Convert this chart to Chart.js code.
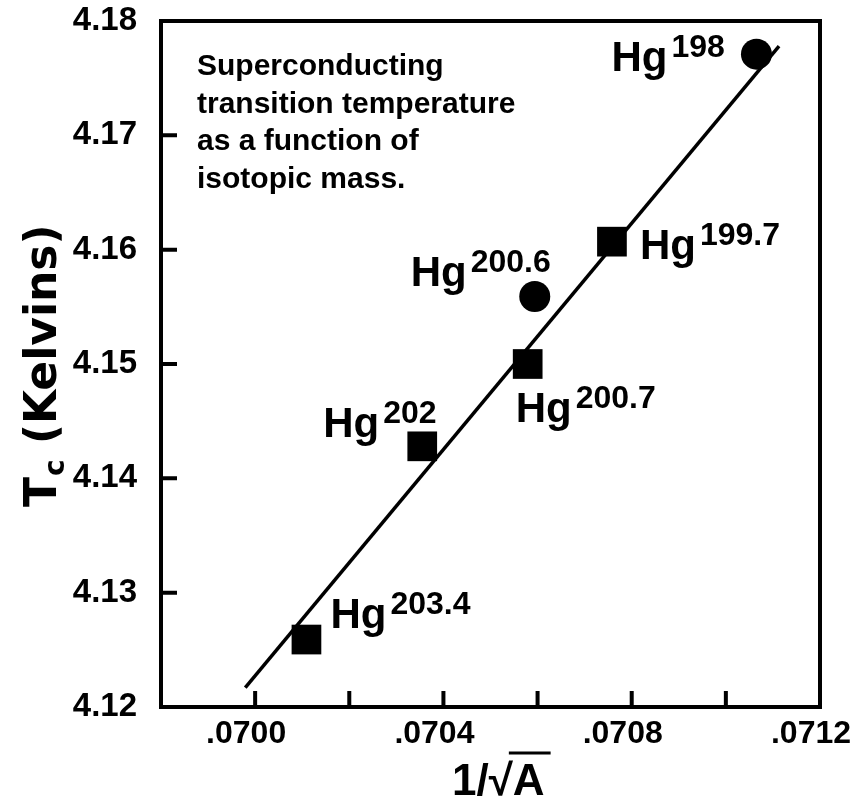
<!DOCTYPE html>
<html>
<head>
<meta charset="utf-8">
<script src="https://cdn.jsdelivr.net/npm/chart.js@4.4.1/dist/chart.umd.min.js"></script>
<style>
  html, body { margin: 0; padding: 0; background: #fff; }
  canvas { display: block; }
</style>
</head>
<body>
<canvas id="chart" width="860" height="802"></canvas>
<script>
// Mercury isotopes: 1/sqrt(A) versus superconducting transition temperature
const isotopes = ['198', '199.7', '200.6', '200.7', '202', '203.4'];
const invSqrtMass = [0.071065, 0.070758, 0.070594, 0.070579, 0.070355, 0.070109];
const tcKelvin = [4.1771, 4.1607, 4.1559, 4.1500, 4.1428, 4.1259];
const markerKind = ['circle', 'rect', 'circle', 'rect', 'rect', 'rect'];

// straight-line fit drawn through the points
const fitX = [0.069979, 0.071113];
const fitY = [4.1217, 4.1778];

// axis tick labels
const xTickLabels = ['.0700', '.0704', '.0708', '.0712'];
const yTickLabels = ['4.12', '4.13', '4.14', '4.15', '4.16', '4.17', '4.18'];

const noteLines = ['Superconducting', 'transition temperature', 'as a function of', 'isotopic mass.'];

// label placement relative to each marker (pixels)
const labelOffsets = [[-145, 17], [28, 17], [-124, -11], [-12, 58], [-99, -9], [24, -12]];

const INK = '#000';
const SANS = '"Liberation Sans", Arial, sans-serif';
const WIDE = '"DejaVu Sans", sans-serif';

const decorations = {
  id: 'decorations',
  afterDraw(chart) {
    const { ctx, chartArea: a, scales } = chart;
    const xs = scales.x, ys = scales.y;
    ctx.save();
    ctx.strokeStyle = INK;
    ctx.fillStyle = INK;

    // frame
    ctx.lineWidth = 4;
    ctx.strokeRect(a.left, a.top, a.right - a.left, a.bottom - a.top);

    // inward tick marks
    ctx.lineWidth = 4;
    ctx.beginPath();
    xs.ticks.forEach(t => {
      const px = xs.getPixelForValue(t.value);
      if (px <= a.left + 3 || px >= a.right - 3) return;
      ctx.moveTo(px, a.bottom);
      ctx.lineTo(px, a.bottom - 16);
    });
    ys.ticks.forEach(t => {
      const py = ys.getPixelForValue(t.value);
      if (py <= a.top + 3 || py >= a.bottom - 3) return;
      ctx.moveTo(a.left, py);
      ctx.lineTo(a.left + 16, py);
    });
    ctx.stroke();

    // note in the upper left corner
    ctx.textAlign = 'left';
    ctx.textBaseline = 'alphabetic';
    ctx.font = 'bold 30px ' + SANS;
    noteLines.forEach((line, i) => ctx.fillText(line, 197, 75 + i * 37.7));

    // isotope labels
    isotopes.forEach((iso, i) => {
      const px = xs.getPixelForValue(invSqrtMass[i]) + labelOffsets[i][0];
      const py = ys.getPixelForValue(tcKelvin[i]) + labelOffsets[i][1];
      ctx.font = 'bold 42px ' + SANS;
      ctx.fillText('Hg', px, py);
      const w = ctx.measureText('Hg').width;
      ctx.font = 'bold 32px ' + SANS;
      ctx.fillText(iso, px + w + 4, py - 14);
    });

    // y axis title: Tc (Kelvins)
    ctx.save();
    ctx.translate(56, 507);
    ctx.rotate(-Math.PI / 2);
    ctx.font = 'bold 44px ' + WIDE;
    ctx.fillText('T', 0, 0);
    let w = ctx.measureText('T').width;
    ctx.font = 'bold 28px ' + WIDE;
    ctx.fillText('c', w + 1, 8);
    w += ctx.measureText('c').width + 1;
    ctx.font = 'bold 44px ' + WIDE;
    ctx.fillText(' (Kelvins)', w, 0);
    ctx.restore();

    // x axis title: 1/sqrt(A)
    ctx.font = 'bold 44px ' + SANS;
    const x0 = 452, base = 795;
    ctx.fillText('1/\u221AA', x0, base);
    const wRoot = ctx.measureText('1/\u221A').width;
    const wAll = ctx.measureText('1/\u221AA').width;
    ctx.lineWidth = 3;
    ctx.beginPath();
    ctx.moveTo(x0 + wRoot - 4, base - 42);
    ctx.lineTo(x0 + wAll + 6, base - 42);
    ctx.stroke();

    ctx.restore();
  }
};

new Chart(document.getElementById('chart'), {
  type: 'scatter',
  data: {
    datasets: [
      {
        label: 'Hg isotopes',
        data: invSqrtMass.map((x, i) => ({ x, y: tcKelvin[i] })),
        pointStyle: markerKind,
        pointRadius: markerKind.map(k => (k === 'rect' ? 21 : 15.5)),
        pointBackgroundColor: INK,
        pointBorderWidth: 0,
        showLine: false
      },
      {
        label: 'fit',
        type: 'line',
        data: fitX.map((x, i) => ({ x, y: fitY[i] })),
        borderColor: INK,
        borderWidth: 3.5,
        pointRadius: 0,
        fill: false
      }
    ]
  },
  options: {
    responsive: false,
    devicePixelRatio: 1,
    animation: false,
    layout: { padding: { top: 20, right: 40, left: 0, bottom: 0 } },
    plugins: { legend: { display: false }, tooltip: { enabled: false } },
    scales: {
      x: {
        type: 'linear',
        min: 0.0698,
        max: 0.0712,
        grid: { display: false, drawTicks: false },
        border: { display: false },
        afterFit(scale) {
          scale.height = 95;
          scale.paddingLeft = 0;
          scale.paddingRight = 0;
        },
        ticks: {
          stepSize: 0.0002,
          padding: 8,
          labelOffset: -9,
          maxRotation: 0,
          autoSkip: false,
          color: INK,
          font: { family: SANS, size: 32, weight: 'bold' },
          callback(value) {
            const s = Number(value).toFixed(4).replace(/^0/, '');
            return xTickLabels.includes(s) ? s : '';
          }
        }
      },
      y: {
        type: 'linear',
        min: 4.12,
        max: 4.18,
        grid: { display: false, drawTicks: false },
        border: { display: false },
        afterFit(scale) {
          scale.width = 161;
          scale.paddingTop = 0;
          scale.paddingBottom = 0;
        },
        ticks: {
          stepSize: 0.01,
          padding: 24,
          color: INK,
          font: { family: SANS, size: 33, weight: 'bold' },
          callback(value) {
            const s = Number(value).toFixed(2);
            return yTickLabels.includes(s) ? s : '';
          }
        }
      }
    }
  },
  plugins: [decorations]
});
</script>
</body>
</html>
